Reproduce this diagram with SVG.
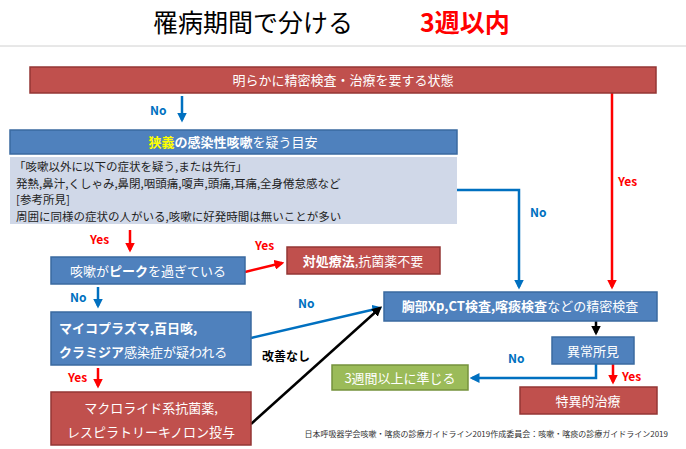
<svg xmlns="http://www.w3.org/2000/svg" width="686" height="449" viewBox="0 0 686 449">
<style>
text{font-family:"Noto Sans CJK JP","Liberation Sans",sans-serif}
.bl{fill:#4f81bd;stroke:#3a6aa0;stroke-width:1.5}
.rd{fill:#c0504d;stroke:#943634;stroke-width:1.5}
.gr{fill:#9bbb59;stroke:#76923c;stroke-width:1.5}
.w{fill:#fff;font-size:13px}
.lb{font-size:12px;font-weight:bold}
.cb{stroke:#0070c0;stroke-width:2.5;fill:none}
.cr{stroke:#ff0000;stroke-width:2.5;fill:none}
.ck{stroke:#000;stroke-width:2.5;fill:none}
</style>
<defs>
<marker id="ab" markerWidth="4" markerHeight="4" refX="3" refY="2" orient="auto"><path d="M0,0L4,2L0,4z" fill="#0070c0"/></marker>
<marker id="ar" markerWidth="4" markerHeight="4" refX="3" refY="2" orient="auto"><path d="M0,0L4,2L0,4z" fill="#ff0000"/></marker>
<marker id="ak" markerWidth="4" markerHeight="4" refX="3" refY="2" orient="auto"><path d="M0,0L4,2L0,4z" fill="#000"/></marker>
</defs>
<rect width="686" height="449" fill="#fff"/>
<text x="153" y="32" font-size="25">罹病期間で分ける</text>
<text x="420" y="32" font-size="25" font-weight="bold" fill="#ff0000">3週以内</text>
<line x1="0" y1="46" x2="686" y2="46" stroke="#d0d0d0" stroke-width="1"/>
<g id="connectors">
<line class="cb" x1="182" y1="96" x2="182" y2="120" marker-end="url(#ab)"/>
<line class="cr" x1="130" y1="230" x2="130" y2="250" marker-end="url(#ar)"/>
<line class="cr" x1="245" y1="272" x2="282" y2="263" marker-end="url(#ar)"/>
<line class="cb" x1="98" y1="287" x2="98" y2="306" marker-end="url(#ab)"/>
<line class="cr" x1="98" y1="368" x2="98" y2="386" marker-end="url(#ar)"/>
<line class="cb" x1="251" y1="338" x2="380" y2="308" marker-end="url(#ab)"/>
<line class="ck" x1="251" y1="424" x2="380" y2="308" marker-end="url(#ak)"/>
<line class="ck" x1="596" y1="321" x2="596" y2="333" marker-end="url(#ak)"/>
<polyline class="cb" points="596,364 596,378 472,378" marker-end="url(#ab)"/>
<line class="cr" x1="613" y1="364" x2="613" y2="382" marker-end="url(#ar)"/>
<line class="cr" x1="612" y1="93" x2="612" y2="287" marker-end="url(#ar)"/>
<polyline class="cb" points="457,190 519,190 519,287" marker-end="url(#ab)"/>
<text x="150" y="115" class="lb" fill="#0070c0">No</text>
<text x="90" y="244" class="lb" fill="#ff0000">Yes</text>
<text x="255" y="250" class="lb" fill="#ff0000">Yes</text>
<text x="70" y="302" class="lb" fill="#0070c0">No</text>
<text x="68" y="382" class="lb" fill="#ff0000">Yes</text>
<text x="298" y="308" class="lb" fill="#0070c0">No</text>
<text x="262" y="361" class="lb" fill="#000">改善なし</text>
<text x="508" y="363" class="lb" fill="#0070c0">No</text>
<text x="622" y="381" class="lb" fill="#ff0000">Yes</text>
<text x="618" y="186" class="lb" fill="#ff0000">Yes</text>
<text x="530" y="217" class="lb" fill="#0070c0">No</text>
</g>
<g id="n1"><rect class="rd" x="30" y="67" width="626" height="26"/><text class="w" x="343" y="85" text-anchor="middle">明らかに精密検査・治療を要する状態</text></g>
<g id="n2"><rect class="bl" x="10" y="130" width="447" height="24"/><text class="w" x="233" y="147" text-anchor="middle"><tspan fill="#ffff00" font-weight="bold">狭義</tspan><tspan font-weight="bold">の感染性咳嗽</tspan>を疑う目安</text></g>
<g id="n3"><rect x="10" y="157" width="447" height="67" fill="#d0d8e8"/>
<text font-size="11.5" fill="#222"><tspan x="14" y="171">「咳嗽以外に以下の症状を疑う,または先行」</tspan><tspan x="16" y="187.5">発熱,鼻汁,くしゃみ,鼻閉,咽頭痛,嗄声,頭痛,耳痛,全身倦怠感など</tspan><tspan x="16" y="204">[参考所見]</tspan><tspan x="16" y="220.5">周囲に同様の症状の人がいる,咳嗽に好発時間は無いことが多い</tspan></text></g>
<g id="n4"><rect class="bl" x="51" y="257" width="194" height="27"/><text class="w" x="148" y="276" text-anchor="middle">咳嗽が<tspan font-weight="bold">ピーク</tspan>を過ぎている</text></g>
<g id="n5"><rect class="rd" x="287" y="247" width="153" height="27"/><text class="w" x="363" y="266" text-anchor="middle"><tspan font-weight="bold">対処療法</tspan>,抗菌薬不要</text></g>
<g id="n6"><rect class="bl" x="51" y="312" width="200" height="53"/><text class="w" x="59" y="333" font-weight="bold">マイコプラズマ,百日咳,</text><text class="w" x="59" y="357"><tspan font-weight="bold">クラミジア</tspan>感染症が疑われる</text></g>
<g id="n7"><rect class="rd" x="51" y="392" width="200" height="53"/><text class="w" x="151" y="413" text-anchor="middle">マクロライド系抗菌薬,</text><text class="w" x="151" y="437" text-anchor="middle">レスピラトリーキノロン投与</text></g>
<g id="n8"><rect class="bl" x="384" y="292" width="273" height="29"/><text class="w" x="520" y="311" text-anchor="middle"><tspan font-weight="bold">胸部Xp,CT検査,喀痰検査</tspan>などの精密検査</text></g>
<g id="n9"><rect class="bl" x="552" y="337" width="82" height="27"/><text class="w" x="593" y="356" text-anchor="middle">異常所見</text></g>
<g id="n10"><rect class="gr" x="332" y="365" width="136" height="25"/><text class="w" x="400" y="383" text-anchor="middle">3週間以上に準じる</text></g>
<g id="n11"><rect class="rd" x="520" y="387" width="137" height="27"/><text class="w" x="588" y="406" text-anchor="middle">特異的治療</text></g>
<text x="668" y="437" font-size="8" text-anchor="end" fill="#333">日本呼吸器学会咳嗽・喀痰の診療ガイドライン2019作成委員会：咳嗽・喀痰の診療ガイドライン2019</text>
</svg>
